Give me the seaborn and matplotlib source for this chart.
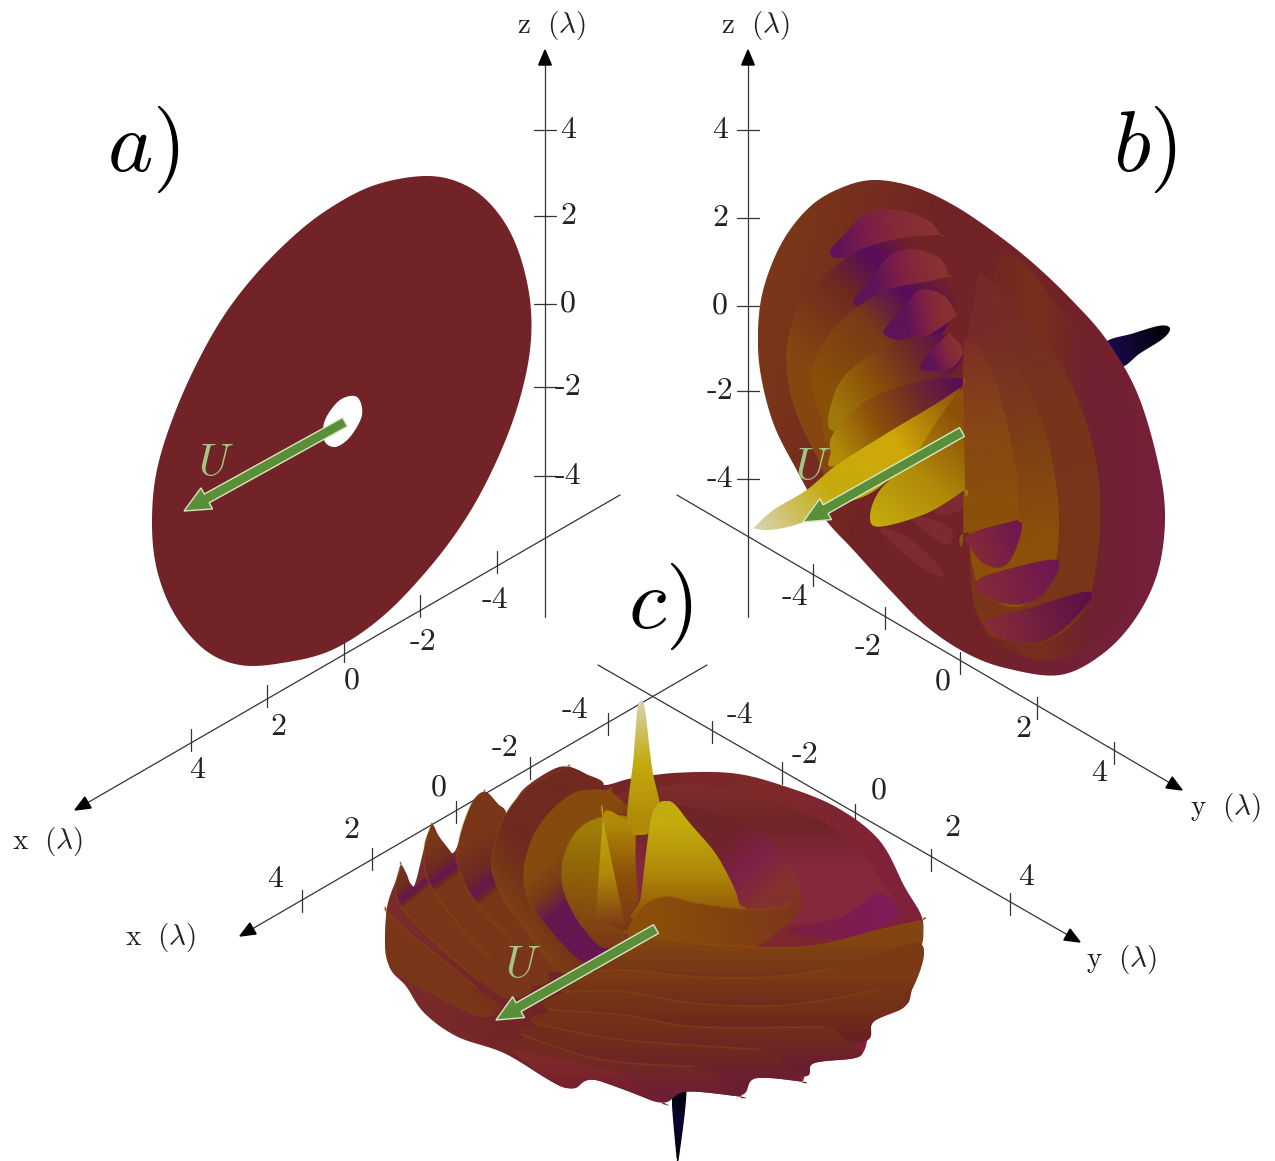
"""Three views of a wave pattern (a, b, c) redrawn on a pixel canvas."""

import numpy as np
import matplotlib
matplotlib.use("Agg")
import matplotlib.pyplot as plt
from matplotlib.colors import LinearSegmentedColormap
from matplotlib.patches import Polygon, FancyArrow
import seaborn as sns

# ── Axes data (pixel positions) ───────────────────────────────────────────────
z_tick_labels = ["4", "2", "0", "-2", "-4"]
za_ticks = [130, 216, 304, 387, 476]
zb_ticks = [130, 218, 306, 391, 479]
ax_ticks = [(497, 562), (420, 606), (344, 651), (267, 696), (191, 740)]
by_ticks = [(813, 575), (885, 618), (960, 663), (1037, 708), (1114, 753)]
cx_ticks = [(608, 724), (530, 768), (456, 812), (372, 859), (302, 901)]
cy_ticks = [(712, 732), (782, 773), (855, 815), (931, 860), (1010, 904)]
xy_tick_labels = ["-4", "-2", "0", "2", "4"]
ax_label_pos = [(495, 600), (423, 642), (352, 681), (278, 727), (197, 770)]
by_label_pos = [(795, 597), (868, 647), (943, 682), (1023, 729), (1099, 773)]
cx_label_pos = [(575, 710), (505, 748), (439, 788), (351, 830), (275, 879)]
cy_label_pos = [(740, 715), (805, 755), (879, 791), (952, 828), (1026, 877)]

# ── Panel a outline ───────────────────────────────────────────────────────────
disc_a = [(429, 176), (469, 187), (498, 213), (518, 250), (530, 300), (530, 350), (518, 405),
          (497, 460), (468, 515), (430, 567), (382, 617), (332, 650), (282, 663), (240, 665),
          (205, 650), (175, 615), (157, 570), (152, 520), (158, 465), (180, 400), (212, 335),
          (245, 287), (286, 243), (327, 210), (375, 185)]
hole_a = [(357, 397), (362, 415), (350, 437), (335, 447), (324, 440), (325, 420), (340, 400)]

# ── Panel b outlines (zoom coordinates) ───────────────────────────────────────
b_spike = [(1095, 520), (1180, 490), (1260, 467), (1290, 475), (1270, 505), (1200, 550), (1140, 590)]
b_base = [(400, 30), (520, 50), (640, 105), (760, 185), (880, 280), (1000, 395), (1100, 510),
          (1190, 665), (1250, 860), (1275, 1030), (1255, 1200), (1190, 1340), (1090, 1450),
          (960, 1515), (800, 1495), (680, 1450), (560, 1370), (450, 1260), (340, 1140),
          (250, 1040), (170, 900), (100, 760), (60, 600), (55, 460), (75, 340), (130, 210),
          (210, 110), (300, 55)]
b_lobe1 = [(600, 192), (570, 155), (500, 125), (430, 118), (370, 135), (320, 185), (270, 250), (340, 260), (600, 200)]
b_band1 = [(600, 195), (600, 195), (480, 205), (350, 245), (250, 320), (180, 400), (145, 500), (140, 600),
           (165, 720), (230, 860), (300, 980), (400, 800), (500, 500), (620, 330), (625, 250)]
b_lobe2 = [(625, 310), (600, 265), (540, 240), (490, 238), (440, 265), (400, 320), (340, 400), (450, 400), (625, 325)]
b_band2 = [(625, 320), (625, 320), (560, 335), (440, 360), (340, 420), (270, 490), (225, 570), (215, 650),
           (245, 750), (275, 820), (450, 700), (600, 500), (640, 420)]
b_lobe3 = [(645, 425), (615, 380), (570, 360), (530, 365), (490, 415), (430, 490), (530, 510), (640, 445)]
b_band3 = [(620, 495), (620, 495), (500, 505), (400, 550), (320, 610), (280, 680), (272, 780), (400, 760),
           (600, 640), (665, 570), (660, 530)]
b_lobe4 = [(662, 525), (635, 498), (620, 495), (540, 590), (620, 600), (665, 560)]
b_band4 = [(665, 625), (665, 625), (600, 625), (500, 645), (400, 680), (320, 740), (275, 800), (272, 845),
           (295, 885), (600, 720), (665, 650)]
b_blade1 = [(40, 1075), (40, 1075), (100, 1020), (200, 960), (290, 885), (440, 790), (590, 700), (665, 650),
            (665, 650), (600, 770), (420, 950), (300, 1005), (180, 1060), (90, 1080)]
b_blade2 = [(390, 1040), (420, 960), (520, 860), (600, 740), (670, 650), (670, 650), (675, 960), (675, 960),
            (560, 1030), (420, 1070)]
b_under = [(560, 1000), (640, 960), (680, 1000), (640, 1030), (590, 1030)]
b_under2 = [(510, 1040), (580, 1050), (635, 1080), (630, 1120), (590, 1110)]
b_under3 = [(420, 1080), (500, 1100), (590, 1180), (610, 1220), (540, 1190)]
b_ring4 = [(780, 260), (1000, 470), (1150, 700), (1215, 900), (1225, 1100), (1170, 1300), (1060, 1420),
           (900, 1470), (730, 1400), (680, 1340), (720, 800)]
b_ring3 = [(710, 340), (740, 325), (800, 380), (920, 520), (1010, 680), (1070, 880), (1080, 1080), (1050, 1280),
           (990, 1370), (900, 1420), (790, 1410), (730, 1370), (690, 1200), (690, 600)]
b_blob3 = [(730, 1355), (850, 1320), (1050, 1265), (1000, 1350), (900, 1415), (790, 1405)]
b_ring2 = [(690, 440), (720, 420), (770, 470), (850, 620), (920, 800), (955, 1000), (948, 1170), (900, 1270),
           (840, 1310), (780, 1300), (710, 1240), (680, 1000), (680, 600)]
b_blob2 = [(705, 1240), (760, 1210), (950, 1170), (920, 1260), (860, 1300), (790, 1300), (730, 1275)]
b_ring1 = [(670, 1090), (670, 1090), (670, 560), (690, 525), (720, 540), (770, 640), (810, 800), (835, 950),
           (835, 1050), (835, 1050)]
b_blob1 = [(685, 1095), (835, 1050), (830, 1130), (790, 1190), (730, 1180), (690, 1130)]

# ── Panel c outlines (zoom coordinates) ───────────────────────────────────────
c_spike_low = [(830, 1190), (870, 1190), (850, 1400), (843, 1405), (843, 1405)]
c_spike_top = [(742, 35), (742, 35), (755, 50), (775, 230), (800, 400), (710, 420), (725, 200), (735, 60)]
c_base = [(45, 665), (75, 560), (85, 525), (100, 550), (120, 590), (150, 470), (170, 405), (190, 440),
          (225, 490), (250, 440), (280, 340), (315, 305), (350, 340), (375, 378), (420, 300), (500, 240),
          (545, 230), (590, 250), (640, 285), (720, 265), (850, 248), (1000, 250), (1130, 285), (1280, 350),
          (1400, 450), (1470, 590), (1520, 690), (1510, 780), (1490, 900), (1470, 950), (1385, 995),
          (1360, 1080), (1330, 1105), (1220, 1120), (1190, 1175), (1190, 1175), (1060, 1165), (1020, 1220), (1020, 1220),
          (870, 1205), (805, 1238), (805, 1238), (620, 1170), (560, 1195), (500, 1175), (370, 1090), (240, 1040),
          (150, 970), (100, 890), (50, 820)]
c_ring_top = [(640, 350), (760, 300), (900, 285), (1100, 330), (1280, 420), (1400, 560), (1440, 680), (1250, 700),
              (900, 700), (600, 650)]
c_inner = [(800, 355), (950, 370), (1080, 440), (1170, 560), (1180, 620), (1130, 655), (1020, 650), (950, 500)]
c_magenta = [(1150, 720), (1300, 680), (1400, 610), (1450, 680), (1300, 745)]
c_fin1 = [(45, 665), (45, 665), (110, 730), (200, 810), (300, 900), (360, 950), (300, 980), (150, 900), (50, 820)]
c_fin2 = [(85, 525), (85, 525), (70, 600), (100, 670), (200, 780), (310, 880), (380, 925), (440, 880), (250, 700), (160, 570), (120, 590)]
c_fin3 = [(170, 405), (170, 405), (150, 470), (160, 570), (240, 700), (340, 810), (430, 885), (490, 850), (320, 660), (245, 530), (225, 490), (190, 440)]
c_fin4 = [(315, 305), (315, 305), (280, 340), (245, 450), (245, 540), (300, 650), (400, 760), (480, 845), (530, 810), (400, 660), (345, 500), (375, 378), (350, 340)]
c_fin5 = [(545, 230), (545, 230), (450, 280), (380, 360), (340, 470), (340, 560), (400, 680), (520, 845), (590, 800), (470, 650), (430, 520), (500, 370), (640, 290), (590, 250)]
c_fin6 = [(660, 300), (660, 300), (560, 310), (470, 400), (430, 500), (425, 590), (460, 670), (585, 815), (660, 770), (560, 640), (540, 480), (640, 380), (720, 370)]
c_fin7 = [(720, 390), (640, 380), (570, 420), (530, 510), (535, 610), (590, 720), (650, 775), (720, 720), (730, 500)]
c_shark1 = [(640, 385), (640, 385), (620, 690), (620, 690), (705, 725), (705, 725)]
c_shark0 = [(640, 380), (720, 405), (720, 405), (740, 700), (700, 725), (700, 725)]
c_shark2 = [(815, 332), (790, 345), (770, 400), (745, 620), (735, 690), (1020, 670), (1015, 640), (1000, 590),
            (950, 490), (880, 400), (840, 345)]
c_band_a = [(705, 725), (705, 725), (750, 650), (815, 620), (900, 640), (1030, 658), (1130, 652), (1165, 625), (1170, 600),
            (1190, 630), (1160, 690), (1000, 800), (760, 800)]
c_band_b = [(720, 735), (790, 745), (950, 765), (1200, 770), (1400, 720), (1520, 690), (1520, 690), (1510, 780),
            (1400, 860), (1100, 900), (800, 880), (620, 860)]
c_band_c = [(600, 850), (600, 850), (700, 840), (900, 860), (1100, 860), (1300, 830), (1512, 760), (1490, 900),
            (1420, 950), (1000, 980), (700, 930), (540, 905)]
c_band_d = [(540, 905), (540, 905), (700, 905), (900, 940), (1150, 945), (1420, 895), (1420, 895), (1450, 900),
            (1470, 950), (1385, 995), (1340, 1060), (1000, 1040), (500, 960)]
c_band_e = [(500, 960), (500, 960), (700, 975), (900, 1010), (1270, 1010), (1270, 1010), (1310, 1050), (1350, 1085),
            (1330, 1105), (1220, 1120), (1190, 1160), (1000, 1120), (470, 1010)]
c_band_f = [(470, 1005), (470, 1005), (700, 1050), (1100, 1080), (1100, 1080), (1140, 1115), (1190, 1175), (1190, 1175),
            (1060, 1165), (1020, 1215), (900, 1180), (430, 1040)]
c_band_g = [(430, 1040), (430, 1040), (640, 1110), (905, 1130), (905, 1130), (960, 1160), (1020, 1220), (1020, 1220),
            (870, 1205), (805, 1238), (700, 1200), (400, 1075)]
c_band_h = [(380, 1075), (380, 1075), (680, 1145), (720, 1165), (805, 1238), (805, 1238), (620, 1170), (560, 1195), (500, 1175)]

# ── Arrows: start and end ─────────────────────────────────────────────────────
arrows = [((345, 422), (184, 511)), ((962, 432), (803, 522)), ((656, 929), (496, 1020))]
u_labels = [(216, 463), (813, 466), (523, 965)]

# colour stops
MAROON = "#722327"
BROWN = "#7a3618"
ORANGE = "#8c5009"
GOLD = "#b08a08"
YELLOW = "#c4ab0e"
PALE = "#d8d4b0"
PURPLE = "#560c5c"
SOFT_PURPLE = "#661650"
WINE = "#842a38"
NAVY = "#0c0035"


def to_b(pts):
    return [(740 + x / 3, 170 + y / 3) for x, y in pts]


def to_c(pts):
    return [(370 + x / 2.75, 690 + y / 3) for x, y in pts]


def smooth(pts, n=10):
    # closed Catmull-Rom through the read points
    p = np.asarray(pts, dtype=float)
    out = []
    for i in range(len(p)):
        p0, p1, p2, p3 = p[i - 1], p[i], p[(i + 1) % len(p)], p[(i + 2) % len(p)]
        for t in np.linspace(0, 1, n, endpoint=False):
            out.append(0.5 * (2 * p1 + (p2 - p0) * t + (2 * p0 - 5 * p1 + 4 * p2 - p3) * t ** 2
                              + (3 * p1 - p0 - 3 * p2 + p3) * t ** 3))
    return np.array(out)


def grad_fill(ax, pts, p0, p1, stops, conv=None, ridge=0):
    pts = conv(pts) if conv else pts
    p0, p1 = [np.array(conv([q])[0] if conv else q, dtype=float) for q in (p0, p1)]
    xy = smooth(pts)
    patch = Polygon(xy, closed=True, fc="none", ec="none")
    ax.add_patch(patch)
    x0, y0 = xy.min(axis=0)
    x1, y1 = xy.max(axis=0)
    gx, gy = np.meshgrid(np.linspace(x0, x1, 140), np.linspace(y0, y1, 140))
    d = p1 - p0
    t = np.clip(((gx - p0[0]) * d[0] + (gy - p0[1]) * d[1]) / (d @ d), 0, 1)
    cmap = LinearSegmentedColormap.from_list("g", stops)
    im = ax.imshow(t, extent=(x0, x1, y1, y0), cmap=cmap, vmin=0, vmax=1,
                   aspect="auto", interpolation="bilinear", zorder=2)
    im.set_clip_path(patch)
    if ridge:
        # thin lighter crest along the first points of the outline
        crest = xy[: (ridge - 1) * 10]
        ax.plot(crest[:, 0], crest[:, 1], color="#96560c", lw=1.1, alpha=0.35, zorder=2)


def seg(ax, xs, ys, lw=0.9):
    sns.lineplot(x=xs, y=ys, ax=ax, color="#333333", linewidth=lw, sort=False, estimator=None, legend=False, zorder=1)


def axis_arrow(ax, start, tip, size=15):
    a, b = np.array(start, float), np.array(tip, float)
    u = (b - a) / np.linalg.norm(b - a)
    n = np.array([-u[1], u[0]])
    base = b - u * size
    seg(ax, [a[0], base[0]], [a[1], base[1]])
    corners = np.array([b, base + n * size * 0.42, base - n * size * 0.42])
    ax.fill(corners[:, 0], corners[:, 1], color="black", zorder=1)


sns.set_theme(style="white")
plt.rcParams["mathtext.fontset"] = "cm"
plt.rcParams["axes.unicode_minus"] = False

fig = plt.figure(figsize=(12.75, 11.61), dpi=100)
ax = fig.add_axes([0, 0, 1, 1])

# ── Axes, ticks and their labels ──────────────────────────────────────────────
TXT = "#222222"
for x0, ticks, lx in [(545, za_ticks, 568), (748, zb_ticks, 720)]:
    axis_arrow(ax, (x0, 617), (x0, 50))
    for t, lab in zip(ticks, z_tick_labels):
        seg(ax, [x0 - 11, x0 + 11], [t, t])
        ax.text(lx, t, lab, family="cmr10", fontsize=23, ha="center", va="center", color=TXT)
axis_arrow(ax, (620, 495), (75, 810))
axis_arrow(ax, (677, 495), (1182, 790))
axis_arrow(ax, (707, 665), (240, 936))
axis_arrow(ax, (598, 665), (1080, 942))
for ticks, places in [(ax_ticks, ax_label_pos), (by_ticks, by_label_pos),
                      (cx_ticks, cx_label_pos), (cy_ticks, cy_label_pos)]:
    for (tx, ty), (lx, ly), lab in zip(ticks, places, xy_tick_labels):
        seg(ax, [tx, tx], [ty - 11, ty + 11])
        ax.text(lx, ly, lab, family="cmr10", fontsize=23, ha="center", va="center", color=TXT)

for (lx, ly), lab in [((551, 26), "z"), ((755, 26), "z"), ((48, 842), "x"),
                      ((161, 938), "x"), ((1226, 808), "y"), ((1122, 960), "y")]:
    ax.text(lx, ly, rf"$\mathrm{{{lab}}}\ \ (\lambda)$", fontsize=21, ha="center", va="center", color=TXT)

for (lx, ly), lab in [((143, 150), "a)"), ((1145, 150), "b)"), ((660, 607), "c)")]:
    ax.text(lx, ly, f"${lab}$", fontsize=62, ha="center", va="center", color="black")

# ── Panel a ───────────────────────────────────────────────────────────────────
grad_fill(ax, disc_a, (150, 400), (530, 400), [MAROON, MAROON])
grad_fill(ax, hole_a, (300, 400), (380, 400), ["white", "white"])

# ── Panel b ───────────────────────────────────────────────────────────────────
VALLEY = [(0, "#864610"), (0.4, "#6f2a20"), (0.62, PURPLE), (0.82, MAROON), (1, MAROON)]
LOBE = [(0, "#5e1458"), (0.3, "#7a1c4a"), (0.6, WINE), (1, "#8a3430")]
RING_TOP = "#762a2a"
grad_fill(ax, b_spike, (1100, 540), (1290, 480), ["#1a0a50", "#000000"], to_b)
grad_fill(ax, b_base, (60, 600), (1270, 900), [BROWN, MAROON, MAROON, "#75203a"], to_b)
grad_fill(ax, b_ring4, (720, 800), (1220, 800), [MAROON, "#78301c", "#6f2230", "#75203a"], to_b)
grad_fill(ax, b_under3, (420, 1080), (600, 1220), ["#7e2a32", "#7e2a32"], to_b)
grad_fill(ax, b_under2, (510, 1040), (630, 1120), ["#7e2a32", "#7e2a32"], to_b)
grad_fill(ax, b_ring3, (760, 340), (1060, 1100), [RING_TOP, "#78341c", BROWN], to_b)
grad_fill(ax, b_blob3, (760, 1380), (1050, 1280), [WINE, "#5c1048"], to_b)
grad_fill(ax, b_ring2, (730, 450), (920, 1100), [RING_TOP, "#7c3c18", ORANGE], to_b)
grad_fill(ax, b_blob2, (720, 1250), (950, 1180), [WINE, "#6e1650"], to_b)
grad_fill(ax, b_lobe1, (290, 230), (590, 170), LOBE, to_b)
grad_fill(ax, b_band1, (170, 560), (600, 140), VALLEY, to_b)
grad_fill(ax, b_lobe2, (400, 330), (620, 290), LOBE, to_b)
grad_fill(ax, b_band2, (220, 620), (640, 240), [(0, "#8a5008"), (0.4, "#7a3a18"), (0.66, PURPLE), (0.88, MAROON), (1, MAROON)], to_b)
grad_fill(ax, b_lobe3, (500, 430), (640, 410), LOBE, to_b)
grad_fill(ax, b_band3, (280, 720), (640, 490), ["#a07a08", ORANGE, "#6e2a28", PURPLE], to_b)
grad_fill(ax, b_lobe4, (570, 560), (660, 520), LOBE, to_b)
grad_fill(ax, b_under, (560, 1000), (680, 1000), ["#7e2a32", "#7e2a32"], to_b)
grad_fill(ax, b_band4, (285, 830), (660, 630), [GOLD, ORANGE, "#702a28", PURPLE], to_b)
grad_fill(ax, b_blob1, (690, 1130), (835, 1060), [WINE, "#6e1650"], to_b)
grad_fill(ax, b_ring1, (690, 530), (720, 1050), ["#7e3024", "#884814", ORANGE], to_b)
grad_fill(ax, b_blade1, (40, 1075), (660, 660), [PALE, YELLOW, "#d0a808", ORANGE], to_b)
grad_fill(ax, b_blade2, (390, 1050), (670, 750), [YELLOW, GOLD, ORANGE], to_b)

# ── Panel c ───────────────────────────────────────────────────────────────────
FIN_VALLEY = [(0, BROWN), (0.5, "#6e2a22"), (0.8, SOFT_PURPLE), (0.95, "#6e2a22"), (1, BROWN)]
grad_fill(ax, c_spike_low, (850, 1190), (850, 1400), ["#000000", NAVY, "#000010"], to_c)
grad_fill(ax, c_base, (40, 600), (1520, 800), ["#7c2c2a", MAROON, "#7e2a2a", "#80203c"], to_c)
grad_fill(ax, c_ring_top, (1000, 290), (1000, 520), ["#7e2c2c", "#702428", "#84283c"], to_c)
grad_fill(ax, c_magenta, (1150, 720), (1420, 660), ["#7a2040", "#7e1c58"], to_c)
grad_fill(ax, c_inner, (900, 370), (1100, 620), ["#702428", "#6e2428", "#7e2048", "#84322e"], to_c)
grad_fill(ax, c_fin1, (110, 730), (200, 640), [BROWN, MAROON], to_c, ridge=5)
grad_fill(ax, c_fin2, (80, 540), (135, 615), FIN_VALLEY, to_c, ridge=6)
grad_fill(ax, c_fin3, (160, 470), (225, 565), FIN_VALLEY, to_c, ridge=6)
grad_fill(ax, c_fin4, (250, 480), (340, 610), FIN_VALLEY, to_c, ridge=7)
grad_fill(ax, c_fin5, (360, 620), (460, 540), ["#7e4014", "#763418", "#702a20"], to_c, ridge=7)
grad_fill(ax, c_fin6, (440, 560), (520, 660), ["#864a0e", "#7a3a18", SOFT_PURPLE], to_c, ridge=7)
grad_fill(ax, c_fin7, (620, 400), (600, 780), ["#a08008", "#8c5c08", BROWN], to_c, ridge=6)
grad_fill(ax, c_spike_top, (742, 35), (742, 400), [PALE, YELLOW, GOLD], to_c)
grad_fill(ax, c_shark0, (700, 400), (700, 720), [GOLD, ORANGE, BROWN], to_c)
grad_fill(ax, c_shark1, (640, 385), (660, 720), [YELLOW, GOLD, BROWN], to_c)
grad_fill(ax, c_shark2, (815, 400), (815, 690), [YELLOW, GOLD, ORANGE], to_c)
grad_fill(ax, c_band_a, (800, 700), (1180, 640), ["#8a4e0a", "#824210", "#7e3420"], to_c, ridge=8)
grad_fill(ax, c_band_b, (900, 760), (900, 880), ["#824410", "#70321c"], to_c, ridge=6)
grad_fill(ax, c_band_c, (900, 860), (900, 960), ["#7c3a14", "#6a2a1e"], to_c, ridge=6)
grad_fill(ax, c_band_d, (900, 930), (900, 1040), ["#763416", "#6a2222"], to_c, ridge=6)
grad_fill(ax, c_band_e, (900, 1005), (900, 1120), ["#743018", "#6a1e2e"], to_c, ridge=5)
grad_fill(ax, c_band_f, (800, 1060), (800, 1170), ["#722c1c", "#6a1e30"], to_c, ridge=4)
grad_fill(ax, c_band_g, (700, 1110), (700, 1210), ["#722a22", "#6e1e35"], to_c, ridge=4)
grad_fill(ax, c_band_h, (550, 1110), (550, 1190), ["#7e2a2a", "#75202c"], to_c)

# ── Velocity arrows ───────────────────────────────────────────────────────────
for (start, end), (ux, uy) in zip(arrows, u_labels):
    dx, dy = end[0] - start[0], end[1] - start[1]
    ax.add_patch(FancyArrow(start[0], start[1], dx, dy, width=10, head_width=24, head_length=26,
                            length_includes_head=True, fc="#5a8f3a", ec="#d8e6c4", lw=1.0, zorder=4))
    ax.text(ux, uy, "$U$", fontsize=32, color="#a4c684", ha="center", va="center", zorder=4)

ax.set_xlim(0, 1275)
ax.set_ylim(1161, 0)
ax.set_axis_off()
fig.savefig("out.png", dpi=100)
